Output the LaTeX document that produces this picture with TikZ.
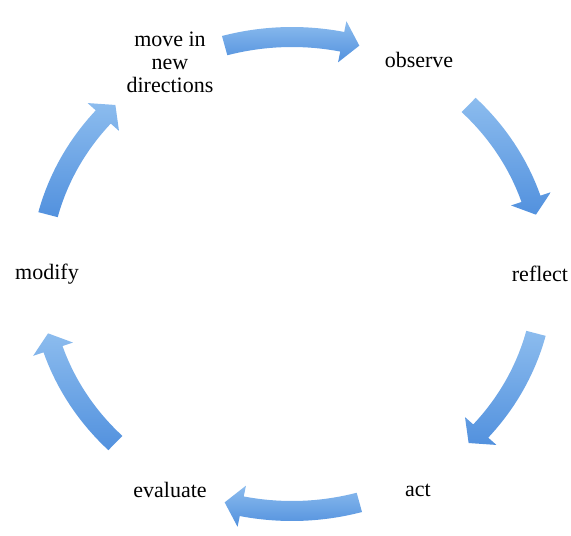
\documentclass[tikz,border=0pt]{standalone}
\usepackage{fontspec}
\setmainfont{Liberation Serif}
\definecolor{arrowlight}{RGB}{140,188,238}
\definecolor{arrowdark}{RGB}{82,145,222}
% one curved block arrow of the cycle: #1 tail angle, #2 tip angle
\newcommand{\cyclearrow}[2]{%
  \pgfmathsetmacro{\hb}{#2+4}%
  \shade[top color=arrowlight, bottom color=arrowdark]
    ({262*cos(#1)},{247*sin(#1)})
    arc[start angle=#1, end angle=\hb, x radius=262, y radius=247]
    -- ({273*cos(\hb)},{258*sin(\hb)})
    -- ({252*cos(#2)},{237*sin(#2)})
    -- ({231*cos(\hb)},{216*sin(\hb)})
    -- ({242*cos(\hb)},{227*sin(\hb)})
    arc[start angle=\hb, end angle=#1, x radius=242, y radius=227]
    -- cycle;}
\begin{document}
\begin{tikzpicture}[x=1pt,y=1pt,
  label/.style={font=\fontsize{22}{23}\selectfont, align=center, inner sep=0pt}]
\useasboundingbox (-292,-262) rectangle (279,274);
\path node[label] (move) at (-122,212) {move in\\new\\directions}
node[label] (observe) at (127,214) {observe}
node[label] (reflect) at (248,0) {reflect}
node[label] (act) at (126,-216) {act}
node[label] (evaluate) at (-122,-216) {evaluate}
node[label] (modify) at (-245,0) {modify}
;
\cyclearrow{105.5}{74.5}
\cyclearrow{45.5}{14.5}
\cyclearrow{-14.5}{-45.5}
\cyclearrow{-74.5}{-105.5}
\cyclearrow{225.5}{194.5}
\cyclearrow{165.5}{134.5}
\end{tikzpicture}
\end{document}
